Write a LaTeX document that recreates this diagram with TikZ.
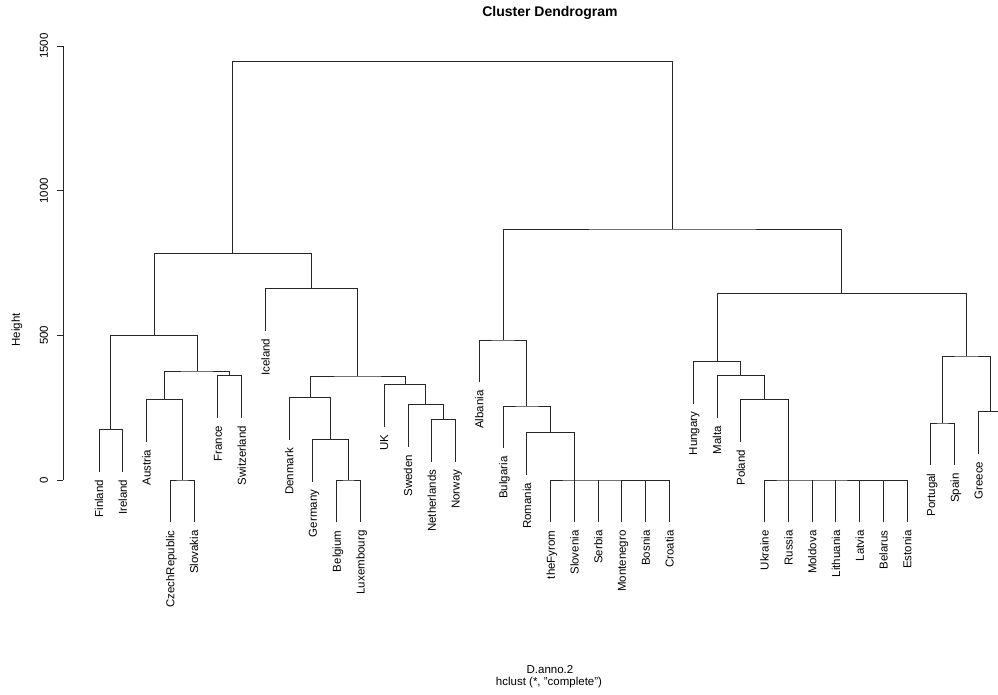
\documentclass[tikz,border=0pt]{standalone}
\usepackage{fontspec}
\setmainfont{Liberation Sans}
\usetikzlibrary{positioning}

\begin{document}
\begin{tikzpicture}[
	x=1pt, y=-1pt,
	% Styles for the tree
	branch/.style={draw=black!85, line width=1pt},
	axisline/.style={draw=black!85, line width=1pt},
	% Styles for text
	leaflabel/.style={rotate=90, anchor=east, inner sep=0pt, text depth=0pt, font=\fontsize{11.5}{13}\selectfont},
	ticklabel/.style={rotate=90, inner sep=0pt, font=\fontsize{11.5}{13}\selectfont},
	titletext/.style={font=\bfseries\fontsize{14}{16}\selectfont},
	subtext/.style={inner sep=0pt, font=\fontsize{11.5}{13}\selectfont}
	]
	
	\clip (0,0) rectangle (998,694);
	
	% ==========================================
	% TITLE AND AXIS TEXT
	% ==========================================
	\node[titletext] (title) at (550,13) {Cluster Dendrogram};
	\node[subtext] (xname) at (550,670) {D.anno.2};
	\node[subtext] (method) at (549,683) {hclust (*, "complete")};
	\node[ticklabel] (ylabel) at (17,330) {Height};
	
	% Height axis, 0.2893 px per unit
	\draw[axisline] (63,480) -- (63,46);
	\foreach \v in {0,500,1000,1500}
		\draw[axisline] (63,{480-0.2893*\v}) -- (57,{480-0.2893*\v})
			node[ticklabel] (tick\v) at (44,{480-0.2893*\v}) {\v};
	
	% ==========================================
	% LEAVES
	% ==========================================
	\foreach \n/\i/\b in {Finland/1/471.6, Ireland/2/471.6, Austria/3/441.6,
		CzechRepublic/4/522.3, Slovakia/5/522.3, France/6/417.6, Switzerland/7/417.6,
		Iceland/8/330.6, Denmark/9/440.0, Germany/10/481.6, Belgium/11/522.3,
		Luxembourg/12/522.3, UK/13/426.6, Sweden/14/446.6, Netherlands/15/461.6,
		Norway/16/461.6, Albania/17/382.3, Bulgaria/18/448.3, Romania/19/474.6,
		theFyrom/20/522.3, Slovenia/21/522.3, Serbia/22/522.3, Montenegro/23/522.3,
		Bosnia/24/522.3, Croatia/25/522.3, Hungary/26/403.6, Malta/27/418.0,
		Poland/28/441.6, Ukraine/29/522.3, Russia/30/522.3, Moldova/31/522.3,
		Lithuania/32/522.3, Latvia/33/522.3, Belarus/34/522.3, Estonia/35/522.3,
		Portugal/36/465.3, Spain/37/465.3, Greece/38/453.6}
	{
		\coordinate (\n) at ({99+(\i-1)*23.77},\b);
		\node[leaflabel] (lbl-\n) at ({99+(\i-1)*23.77},{\b+8}) {\n};
	}
	% leaf cut off by the right edge
	\coordinate (cutleaf) at (1002.3,453.6);
	
	% ==========================================
	% MERGE POINTS
	% ==========================================
	\coordinate (mFI) at (110.9,429.3);
	\coordinate (mCS) at (182.2,480);
	\coordinate (mACS) at (164.4,399.3);
	\coordinate (mFS) at (229.8,375.3);
	\coordinate (mAlpine) at (197.1,371);
	\coordinate (mCentral) at (154.0,335.7);
	\coordinate (mBL) at (348.6,480);
	\coordinate (mGBL) at (330.8,439.3);
	\coordinate (mDGBL) at (310.0,397.7);
	\coordinate (mNN) at (443.7,419.3);
	\coordinate (mSNN) at (425.9,404.3);
	\coordinate (mUK) at (405.0,384.3);
	\coordinate (mNorth) at (357.5,376);
	\coordinate (mIce) at (311.5,288.3);
	\coordinate (mWest) at (232.7,253.3);
	\coordinate (mBalkan) at (574.4,480);
	\coordinate (mRo) at (550.5,432.3);
	\coordinate (mBg) at (526.8,406);
	\coordinate (mAl) at (503.0,340);
	\coordinate (mBaltic) at (788.3,480);
	\coordinate (mPl) at (764.6,399.3);
	\coordinate (mMt) at (740.8,375.7);
	\coordinate (mHu) at (717.0,361.3);
	\coordinate (mPS) at (942.9,423);
	\coordinate (mGr) at (990.4,411.3);
	\coordinate (mSouth) at (966.6,356);
	\coordinate (mCE) at (841.8,293.3);
	\coordinate (mEast) at (672.4,229);
	\coordinate (mRoot) at (452.6,61.3);
	
	% ==========================================
	% BRANCHES
	% ==========================================
	% West
	\draw[branch] (Finland) |- (mFI) -| (Ireland);
	\draw[branch] (CzechRepublic) |- (mCS) -| (Slovakia);
	\draw[branch] (Austria) |- (mACS) -| (mCS);
	\draw[branch] (France) |- (mFS) -| (Switzerland);
	\draw[branch] (mACS) |- (mAlpine) -| (mFS);
	\draw[branch] (mFI) |- (mCentral) -| (mAlpine);
	\draw[branch] (Belgium) |- (mBL) -| (Luxembourg);
	\draw[branch] (Germany) |- (mGBL) -| (mBL);
	\draw[branch] (Denmark) |- (mDGBL) -| (mGBL);
	\draw[branch] (Netherlands) |- (mNN) -| (Norway);
	\draw[branch] (Sweden) |- (mSNN) -| (mNN);
	\draw[branch] (UK) |- (mUK) -| (mSNN);
	\draw[branch] (mDGBL) |- (mNorth) -| (mUK);
	\draw[branch] (Iceland) |- (mIce) -| (mNorth);
	\draw[branch] (mCentral) |- (mWest) -| (mIce);
	
	% East
	\draw[branch] (theFyrom) |- (mBalkan) -| (Croatia);
	\foreach \n in {Slovenia,Serbia,Montenegro,Bosnia}
		\draw[branch] (\n) -- (\n |- mBalkan);
	\draw[branch] (Romania) |- (mRo) -| (mBalkan);
	\draw[branch] (Bulgaria) |- (mBg) -| (mRo);
	\draw[branch] (Albania) |- (mAl) -| (mBg);
	\draw[branch] (Ukraine) |- (mBaltic) -| (Estonia);
	\foreach \n in {Russia,Moldova,Lithuania,Latvia,Belarus}
		\draw[branch] (\n) -- (\n |- mBaltic);
	\draw[branch] (Poland) |- (mPl) -| (mBaltic);
	\draw[branch] (Malta) |- (mMt) -| (mPl);
	\draw[branch] (Hungary) |- (mHu) -| (mMt);
	\draw[branch] (Portugal) |- (mPS) -| (Spain);
	\draw[branch] (Greece) |- (mGr) -| (cutleaf);
	\draw[branch] (mPS) |- (mSouth) -| (mGr);
	\draw[branch] (mHu) |- (mCE) -| (mSouth);
	\draw[branch] (mAl) |- (mEast) -| (mCE);
	
	% Root
	\draw[branch] (mWest) |- (mRoot) -| (mEast);
	
\end{tikzpicture}
\end{document}
